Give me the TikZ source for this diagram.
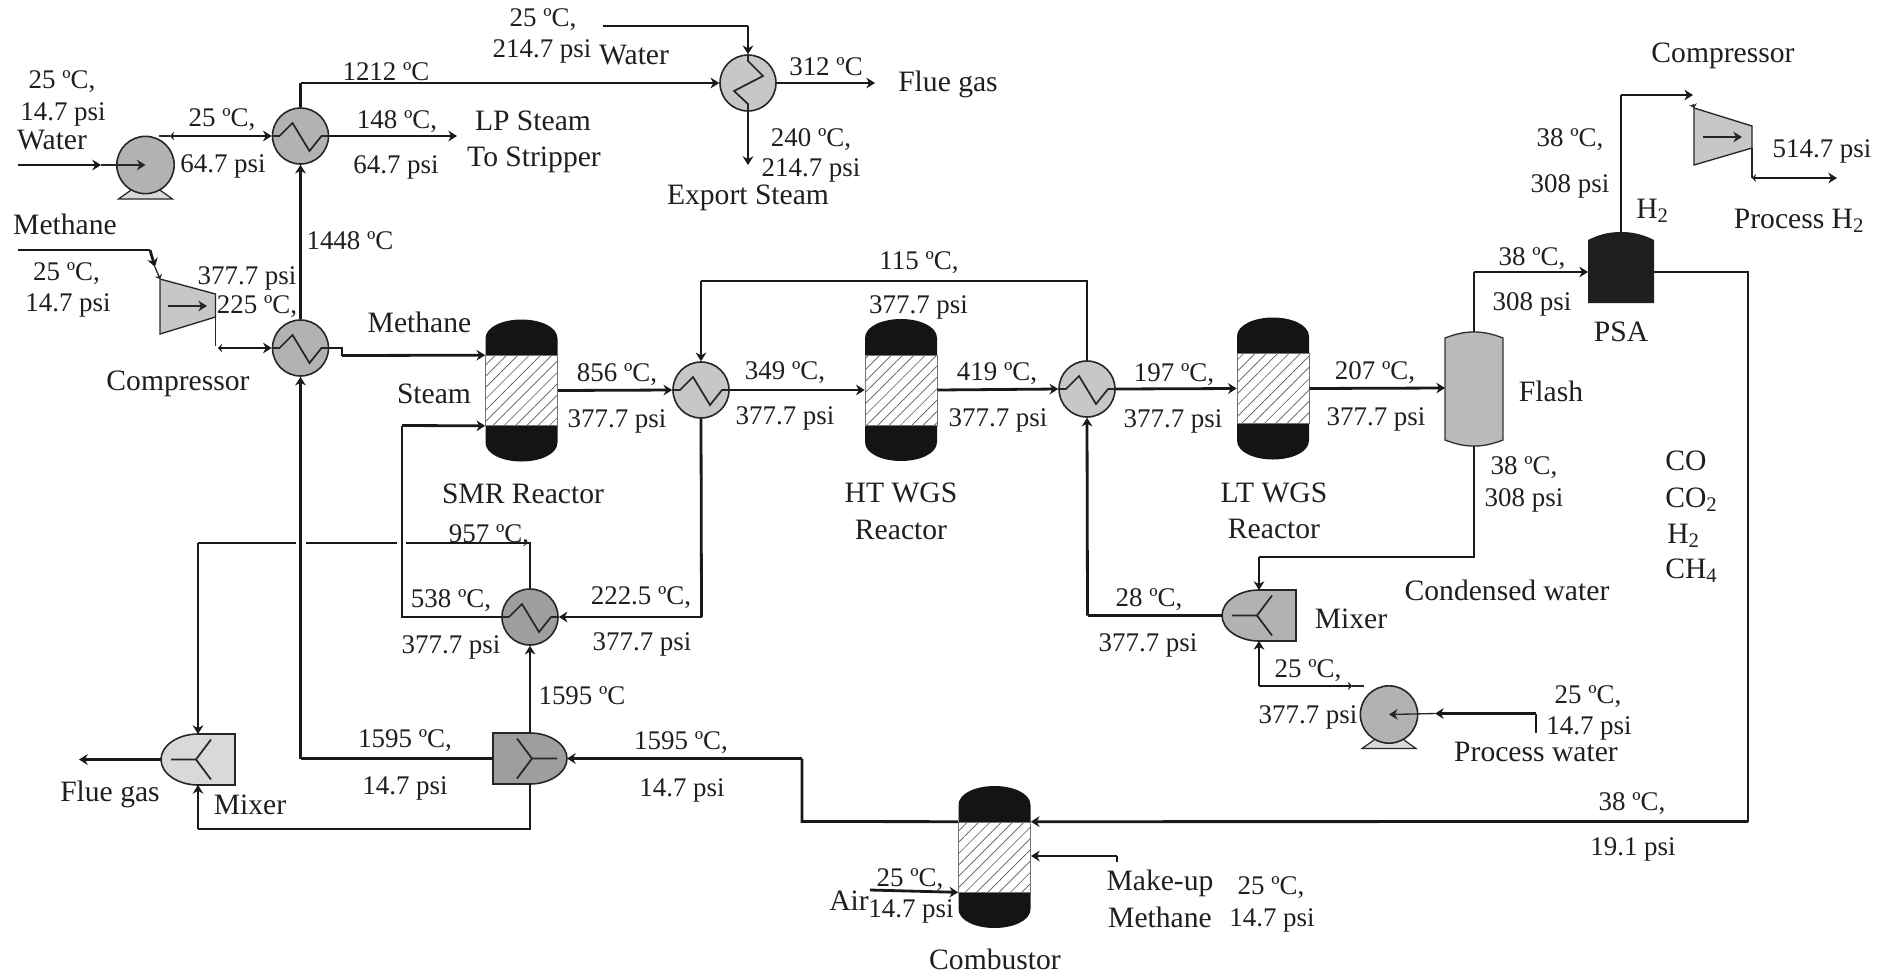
\documentclass[tikz,border=0pt]{standalone}
\usepackage{fontspec}
\setmainfont{Liberation Serif}
\usetikzlibrary{arrows.meta,patterns.meta,shapes.geometric}
\definecolor{gA}{gray}{0.70}
\definecolor{gB}{gray}{0.78}
\definecolor{gC}{gray}{0.62}
\definecolor{gD}{gray}{0.85}
\tikzset{
  lab/.style={anchor=base,inner sep=0pt,font=\fontsize{20.2}{24}\selectfont,text=black!88},
  nam/.style={anchor=base,inner sep=0pt,font=\fontsize{22.2}{26}\selectfont,text=black!88},
  namw/.style={nam,anchor=base west},
  tip/.tip={Stealth[length=6.5pt,width=8pt]},
  tick/.tip={Stealth[length=3pt,width=6pt]},
  pipe/.style={draw=black!90,line width=2.1pt,line join=miter},
  pipea/.style={pipe,-tip},
  thinp/.style={draw=black!85,line width=1pt},
  thina/.style={thinp,-tip},
  hxbox/.style={circle,draw=black!85,line width=1.2pt,minimum size=42pt,inner sep=0pt},
  zig/.style={draw=black!85,line width=1.3pt,line join=miter},
  hatchbox/.style={draw=black!55,line width=0.5pt,minimum width=54pt,minimum height=52.5pt,inner sep=0pt,
    pattern={Lines[angle=45,distance=6pt,line width=.5pt]},pattern color=black!65},
}
% heat exchanger, horizontal coil
\newcommand\hxh[4]{%
  \node[hxbox,fill=#4] (#1) at (#2,#3) {};
  \draw[zig,shift={(#2,#3)}] (-28,0) -- (-21,0) -- (-8,-13) -- (9,15) -- (21,0) -- (28,0);
}
% heat exchanger, vertical coil
\newcommand\hxv[4]{%
  \node[hxbox,fill=#4] (#1) at (#2,#3) {};
  \draw[zig,shift={(#2,#3)}] (0,-28) -- (0,-22) -- (15,-7) -- (-14,8) -- (0,21) -- (0,28);
}
% pump
\newcommand\pumpu[3]{%
  \draw[fill=gD,draw=black!85,line width=.9pt,shift={(#2,#3)}] (-11.5,23) -- (-27,34) -- (27,34) -- (11.5,23);
  \node[hxbox,fill=gA,minimum size=43pt] (#1) at (#2,#3) {};
}
% reactor: name, cx, cy of packed section
\newcommand\reactor[3]{%
  \begin{scope}[shift={(#2,#3)}]
    \fill[black!92] (-36,-35) -- (-36,-52) .. controls (-36,-64) and (-18,-71) .. (0,-71)
       .. controls (18,-71) and (36,-64) .. (36,-52) -- (36,-35) -- cycle;
    \fill[black!92] (-36,35) -- (-36,52) .. controls (-36,64) and (-18,71) .. (0,71)
       .. controls (18,71) and (36,64) .. (36,52) -- (36,35) -- cycle;
    \node[hatchbox] (#1) at (0,0) {};
  \end{scope}
}
% mixer: name, cx, cy, fill, xscale (1: round on left, -1: round on right)
\newcommand\mixer[5]{%
  \begin{scope}[shift={(#2,#3)},xscale=#5]
    \draw[fill=#4,draw=black!85,line width=1.2pt] (37,-25.5) -- (0,-25.5) .. controls (-20,-25.5) and (-37,-14) .. (-37,0)
       .. controls (-37,14) and (-20,25.5) .. (0,25.5) -- (37,25.5) -- cycle;
    \draw[zig] (-27,0) -- (-2,0) -- (13,-20);
    \draw[zig] (-2,0) -- (13,20);
    \coordinate (#1) at (0,0);
    \coordinate (#1-t) at (0,-25.5);
    \coordinate (#1-b) at (0,25.5);
    \coordinate (#1-o) at (-37,0);
    \coordinate (#1-f) at (37,0);
  \end{scope}
}
\begin{document}
\begin{tikzpicture}[x=0.75pt,y=-0.75pt]
\useasboundingbox (0,0) rectangle (1891,975);
\fill[white] (0,0) rectangle (1891,975);

% ---------- equipment ----------
\hxh{hxa}{300.5}{136}{gA}
\hxh{hxb}{300.5}{348}{gA}
\hxh{hxc}{701}{390}{gB}
\hxh{hxd}{1087}{389}{gB}
\hxh{hxe}{530}{617}{gC}
\hxv{hxf}{748}{83}{gB}
\pumpu{pumpa}{145.5}{165}
\pumpu{pumpb}{1389}{714.5}
\reactor{smr}{521.5}{390.5}
\reactor{htr}{901}{390}
\reactor{ltr}{1273}{388.5}
\reactor{cmb}{994.5}{857}
\mixer{mxa}{198}{759.5}{gD}{1}
\mixer{mxb}{530}{758.5}{gC}{-1}
\mixer{mxc}{1259}{615.5}{gA}{1}

% compressors
\draw[fill=gB,draw=black!85,line width=1pt] (160,279) -- (215.5,294) -- (215.5,317) -- (160,334) -- cycle;
\draw[fill=gB,draw=black!85,line width=1pt] (1694,108) -- (1752,126) -- (1752,148) -- (1694,165) -- cycle;
\coordinate (cpa-i) at (160,279);
\coordinate (cpa-o) at (215.5,317);
\coordinate (cpa-a) at (168,306);
\coordinate (cpa-b) at (207,306);
\coordinate (cpb-i) at (1694,108);
\coordinate (cpb-o) at (1752,148);
\coordinate (cpb-a) at (1703,137);
\coordinate (cpb-b) at (1742,137);
\draw[thina] (cpa-a) -- (cpa-b);
\draw[thina] (cpb-a) -- (cpb-b);

% flash drum
\draw[fill=gA!90!white,draw=black!80,line width=1pt] (1445,338) .. controls (1458,333) and (1466,332) .. (1474,332)
  .. controls (1482,332) and (1490,333) .. (1503,338) -- (1503,440)
  .. controls (1490,445) and (1482,446) .. (1474,446) .. controls (1466,446) and (1458,445) .. (1445,440) -- cycle;
\coordinate (fl-w) at (1445,388);
\coordinate (fl-t) at (1474,332);
\coordinate (fl-b) at (1474,446);

% PSA
\fill[black!88] (1588,240) .. controls (1600,234) and (1610,232) .. (1621,232) .. controls (1632,232) and (1642,234) .. (1654,240)
  -- (1654,303) -- (1588,303) -- cycle;
\coordinate (psa-w) at (1588,272);
\coordinate (psa-e) at (1654,272);
\coordinate (psa-t) at (1621,232);

% ---------- helper points ----------
\coordinate (wa0) at (18,165);
\coordinate (wa1) at (101,165);
\coordinate (pao) at (159,136);
\coordinate (pab) at (170,136);
\coordinate (lp) at (457,136);
\coordinate (q1) at (300.5,83);
\coordinate (wf0) at (603,26);
\coordinate (wf1) at (748,26);
\coordinate (es) at (748,165);
\coordinate (fg) at (875,83);
\coordinate (me0) at (18,250);
\coordinate (me1) at (150,250);
\coordinate (me2) at (155,267);
\coordinate (cpa-d) at (215.5,346);
\coordinate (cpa-e) at (218,348);
\coordinate (st1) at (342,348);
\coordinate (st2) at (342,355.5);
\coordinate (sm1) at (402,617);
\coordinate (sm2) at (402,425.5);
\coordinate (lo1) at (1087,281);
\coordinate (lo2) at (701,281);
\coordinate (rc1) at (701.5,617);
\coordinate (ver1) at (300.5,758.5);
\coordinate (h1) at (530,543);
\coordinate (h2a) at (405.5,543);
\coordinate (h2b) at (396.5,543);
\coordinate (h3a) at (305.5,543);
\coordinate (h3b) at (295.5,543);
\coordinate (h4) at (198,543);
\coordinate (b1) at (530,829);
\coordinate (b2) at (198,829);
\coordinate (fgl) at (79,759.5);
\coordinate (c1) at (802,821.5);
\coordinate (c2) at (802,758.5);
\coordinate (p1) at (1474,272);
\coordinate (p2) at (1621,95);
\coordinate (p3) at (1693,95);
\coordinate (p4) at (1693,104);
\coordinate (o1) at (1752,178);
\coordinate (o2) at (1752,178);
\coordinate (o3) at (1837,178);
\coordinate (t1) at (1748,272);
\coordinate (t2) at (1748,821.5);
\coordinate (cn1) at (1474,557);
\coordinate (cn2) at (1259,557);
\coordinate (mc1) at (1087.5,615.5);
\coordinate (pb1) at (1259,686);
\coordinate (pbt) at (1364,686);
\coordinate (pbm) at (1352,686);
\coordinate (pw0) at (1536,733);
\coordinate (pw1) at (1536,713.5);
\coordinate (pw2) at (1435,713.5);
\coordinate (ar0) at (870,890);
\coordinate (mk0) at (1117,862);
\coordinate (mk1) at (1117,856);
\coordinate (mk2) at (1031,856);

% ---------- connectors ----------
\draw[pipea] (wa0) -- (wa1);
\draw[thina] (wa1) -- (pumpa.center);
\draw[thinp] (pao) -- (pab);
\draw[pipe,tick-tip] (pab) -- (hxa.west);
\draw[pipea] (hxa.east) -- (lp);
\draw[pipe] (hxa.north) -- (q1);
\draw[pipea] (q1) -- (hxf.west);
\draw[pipe] (wf0) -- (wf1);
\draw[pipea] (wf1) -- (hxf.north);
\draw[pipea] (hxf.south) -- (es);
\draw[pipea] (hxf.east) -- (fg);
\draw[pipea] (hxb.north) -- (hxa.south);
\draw[pipe] (me0) -- (me1);
\draw[pipe,-tip] (me1) -- (me2);
\draw[thina,-tick] (me2) -- (cpa-i);
\draw[thinp] (cpa-o) -- (cpa-d);
\draw[pipea,tick-tip] (cpa-e) -- (hxb.west);
\draw[pipe] (hxb.east) -- (st1) -- (st2);
\draw[pipea] (st2) -- (smr.north west);
\draw[pipea] (smr.east) -- (hxc.west);
\draw[pipea] (hxc.east) -- (htr.west);
\draw[pipea] (htr.east) -- (hxd.west);
\draw[pipea] (hxd.east) -- (ltr.west);
\draw[pipea] (ltr.east) -- (fl-w);
\draw[pipe] (hxd.north) -- (lo1) -- (lo2);
\draw[pipea] (lo2) -- (hxc.north);
\draw[pipe] (hxc.south) -- (rc1);
\draw[pipea] (rc1) -- (hxe.east);
\draw[pipe] (hxe.west) -- (sm1) -- (sm2);
\draw[pipea] (sm2) -- (smr.south west);
\draw[pipe] (hxe.north) -- (h1) -- (h2a) (h2b) -- (h3a) (h3b) -- (h4);
\draw[pipea] (h4) -- (mxa-t);
\draw[pipea] (mxb-t) -- (hxe.south);
\draw[pipe] (mxb-b) -- (b1) -- (b2);
\draw[pipea] (b2) -- (mxa-b);
\draw[pipea] (mxa-o) -- (fgl);
\draw[pipe] (mxb-f) -- (ver1);
\draw[pipea] (ver1) -- (hxb.south);
\draw[pipe] (cmb.north west) -- (c1) -- (c2);
\draw[pipea] (c2) -- (mxb-o);
\draw[pipe] (fl-t) -- (p1);
\draw[pipea] (p1) -- (psa-w);
\draw[pipe] (psa-t) -- (p2);
\draw[pipea] (p2) -- (p3);
\draw[thina,-tick] (p4) -- (cpb-i);
\draw[thinp] (cpb-o) -- (o1);
\draw[pipea,tick-tip] (o2) -- (o3);
\draw[pipe] (psa-e) -- (t1) -- (t2);
\draw[pipea] (t2) -- (cmb.north east);
\draw[pipe] (fl-b) -- (cn1) -- (cn2);
\draw[pipea] (cn2) -- (mxc-t);
\draw[pipe] (mxc-o) -- (mc1);
\draw[pipea] (mc1) -- (hxd.south);
\draw[thinp] (pbt) -- (pbm);
\draw[pipe,tick-] (pbm) -- (pb1);
\draw[pipea] (pb1) -- (mxc-b);
\draw[pipe] (pw0) -- (pw1);
\draw[pipea] (pw1) -- (pw2);
\draw[thina] (pw2) -- (pumpb.center);
\draw[pipea] (ar0) -- (cmb.south west);
\draw[pipe] (mk0) -- (mk1);
\draw[pipea] (mk1) -- (mk2);

% ---------- texts ----------
\node[lab] (a01) at (62,88) {25 ºC,};
\node[lab] (a02) at (63,120) {14.7 psi};
\node[nam] (a03) at (52,149) {Water};
\node[lab] (a04) at (222,126) {25 ºC,};
\node[lab] (a05) at (223,172) {64.7 psi};
\node[lab] (a06) at (386,80) {1212 ºC};
\node[lab] (a07) at (397,128) {148 ºC,};
\node[lab] (a08) at (396,173) {64.7 psi};
\node[nam] (a09) at (533,130) {LP Steam};
\node[nam] (a10) at (534,166) {To Stripper};
\node[nam] (a11) at (65,234) {Methane};
\node[lab] (a12) at (66.5,280) {25 ºC,};
\node[lab] (a13) at (68,311) {14.7 psi};
\node[lab] (a14) at (247,284) {377.7 psi};
\node[lab] (a15) at (257,313) {225 ºC,};
\node[lab] (a16) at (350,249) {1448 ºC};
\node[nam] (a17) at (178,390) {Compressor};
\node[nam] (a18) at (419.5,332) {Methane};
\node[nam] (a19) at (434,403) {Steam};

\node[lab] (b01) at (543,26) {25 ºC,};
\node[lab] (b02) at (542,57) {214.7 psi};
\node[nam] (b03) at (634,64) {Water};
\node[lab] (b04) at (826,75) {312 ºC};
\node[nam] (b05) at (948,91) {Flue gas};
\node[lab] (b06) at (811,146) {240 ºC,};
\node[lab] (b07) at (811,176) {214.7 psi};
\node[nam] (b08) at (748,204) {Export Steam};

\node[lab] (c01) at (617,381) {856 ºC,};
\node[lab] (c02) at (617,427) {377.7 psi};
\node[lab] (c03) at (785,379) {349 ºC,};
\node[lab] (c04) at (785,424) {377.7 psi};
\node[nam] (c05) at (523,503) {SMR Reactor};
\node[lab] (c06) at (489,542) {957 ºC,};
\node[lab] (c07) at (919,269) {115 ºC,};
\node[lab] (c08) at (918.5,313) {377.7 psi};
\node[nam] (c09) at (901,502) {HT WGS};
\node[nam] (c10) at (901,539) {Reactor};
\node[lab] (c11) at (997,380) {419 ºC,};
\node[lab] (c12) at (998,426) {377.7 psi};
\node[lab] (c13) at (1174,381) {197 ºC,};
\node[lab] (c14) at (1173,427) {377.7 psi};
\node[lab] (c15) at (1375,379) {207 ºC,};
\node[lab] (c16) at (1376,425) {377.7 psi};
\node[nam] (c17) at (1274,502) {LT WGS};
\node[nam] (c18) at (1274,538) {Reactor};

\node[nam] (d01) at (1723,62) {Compressor};
\node[lab] (d02) at (1570,146) {38 ºC,};
\node[lab] (d03) at (1570,192) {308 psi};
\node[namw] (d04) at (1636,218) {H\textsubscript{2}};
\node[lab] (d05) at (1822,157) {514.7 psi};
\node[nam] (d06) at (1799,228) {Process H\textsubscript{2}};
\node[lab] (d07) at (1532,265) {38 ºC,};
\node[lab] (d08) at (1532,310) {308 psi};
\node[nam] (d09) at (1621,341) {PSA};
\node[nam] (d10) at (1551,401) {Flash};

\node[lab] (e01) at (1524,474) {38 ºC,};
\node[lab] (e02) at (1524,506) {308 psi};
\node[namw] (e03) at (1665,470) {CO};
\node[namw] (e04) at (1665,507) {CO\textsubscript{2}};
\node[namw] (e05) at (1667,543) {H\textsubscript{2}};
\node[namw] (e06) at (1665,578) {CH\textsubscript{4}};
\node[nam] (e07) at (1507,600) {Condensed water};
\node[lab] (e08) at (1588,703) {25 ºC,};
\node[lab] (e09) at (1589,734) {14.7 psi};
\node[nam] (e10) at (1536,761) {Process water};
\node[lab] (e11) at (1632,810) {38 ºC,};
\node[lab] (e12) at (1633,855) {19.1 psi};

\node[lab] (f01) at (1149,606) {28 ºC,};
\node[lab] (f02) at (1148,651) {377.7 psi};
\node[nam] (f03) at (1351,628) {Mixer};
\node[lab] (f04) at (1308,677) {25 ºC,};
\node[lab] (f05) at (1308,723) {377.7 psi};

\node[lab] (g01) at (451,607) {538 ºC,};
\node[lab] (g02) at (451,653) {377.7 psi};
\node[lab] (g03) at (405,747) {1595 ºC,};
\node[lab] (g04) at (405,794) {14.7 psi};
\node[nam] (g05) at (110,801) {Flue gas};
\node[nam] (g06) at (250,814) {Mixer};
\node[lab] (g07) at (641,604) {222.5 ºC,};
\node[lab] (g08) at (642,650) {377.7 psi};
\node[lab] (g09) at (582,704) {1595 ºC};
\node[lab] (g10) at (681,749) {1595 ºC,};
\node[lab] (g11) at (682,796) {14.7 psi};

\node[lab] (h01) at (910,886) {25 ºC,};
\node[lab] (h02) at (911,917) {14.7 psi};
\node[nam] (h03) at (849,910) {Air};
\node[nam] (h04) at (1160,890) {Make-up};
\node[nam] (h05) at (1160,927) {Methane};
\node[lab] (h06) at (1271,894) {25 ºC,};
\node[lab] (h07) at (1272,926) {14.7 psi};
\node[nam] (h08) at (995,969) {Combustor};
\end{tikzpicture}
\end{document}
